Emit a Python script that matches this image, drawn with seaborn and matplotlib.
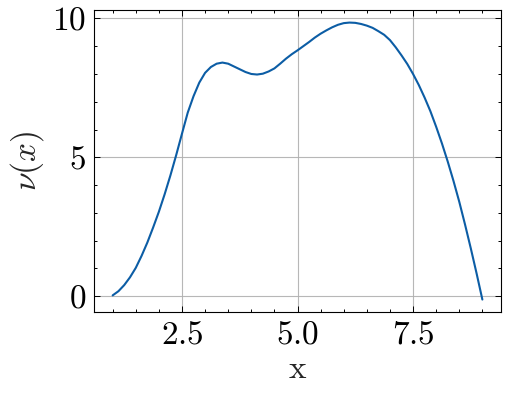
import numpy as np
import pandas as pd
import seaborn as sns
import matplotlib
matplotlib.use("Agg")
import matplotlib.pyplot as plt
from matplotlib.ticker import MultipleLocator

x_vals = [1.0, 1.125, 1.25, 1.375, 1.5, 1.625, 1.75, 1.875, 2.0, 2.125, 2.25,
          2.375, 2.5, 2.625, 2.75, 2.875, 3.0, 3.125, 3.25, 3.375, 3.5, 3.625,
          3.75, 3.875, 4.0, 4.125, 4.25, 4.375, 4.5, 4.625, 4.75, 4.875, 5.0,
          5.125, 5.25, 5.375, 5.5, 5.625, 5.75, 5.875, 6.0, 6.125, 6.25, 6.375,
          6.5, 6.625, 6.75, 6.875, 7.0, 7.125, 7.25, 7.375, 7.5, 7.625, 7.75,
          7.875, 8.0, 8.125, 8.25, 8.375, 8.5, 8.625, 8.75, 8.875, 9.0]
nu_vals = [0.03, 0.18, 0.4, 0.68, 1.02, 1.45, 1.93, 2.47, 3.04, 3.67, 4.35,
           5.08, 5.85, 6.61, 7.2, 7.69, 8.04, 8.25, 8.37, 8.41, 8.37, 8.27,
           8.17, 8.07, 8.0, 7.98, 8.01, 8.09, 8.2, 8.37, 8.55, 8.71, 8.85,
           9.0, 9.15, 9.31, 9.45, 9.57, 9.68, 9.77, 9.83, 9.85, 9.84, 9.8,
           9.74, 9.66, 9.54, 9.41, 9.22, 8.96, 8.67, 8.36, 8.0, 7.6, 7.15,
           6.66, 6.1, 5.5, 4.85, 4.15, 3.4, 2.58, 1.72, 0.82, -0.12]
x_label = "x"
y_label = r"$\nu(x)$"

df = pd.DataFrame({"x": x_vals, "nu": nu_vals})

sns.set_theme(style="ticks")
plt.rcParams.update({
    "font.family": "serif",
    "font.serif": ["cmr10", "DejaVu Serif"],
    "mathtext.fontset": "cm",
    "axes.formatter.use_mathtext": True,
    "axes.unicode_minus": False,
})

fig = plt.figure(figsize=(5.09, 4.03), dpi=100)
ax = fig.add_axes([0.185, 0.225, 0.799, 0.75])

sns.lineplot(data=df, x="x", y="nu", ax=ax, color="#0C5DA5", linewidth=1.5)

ax.set_xlabel(x_label, fontsize=24)
ax.set_ylabel(y_label, fontsize=24)
ax.xaxis.set_major_locator(MultipleLocator(2.5))
ax.xaxis.set_minor_locator(MultipleLocator(0.5))
ax.yaxis.set_major_locator(MultipleLocator(5))
ax.yaxis.set_minor_locator(MultipleLocator(1))
ax.set_xlim(0.6, 9.4)
ax.set_ylim(-0.58, 10.3)

ax.tick_params(which="both", direction="in", top=True, right=True, labelsize=24,
               width=0.7, colors="black")
ax.tick_params(which="major", length=4.5, pad=6)
ax.tick_params(which="minor", length=2.3)
for s in ax.spines.values():
    s.set_linewidth(0.8)
    s.set_color("black")
ax.grid(True, which="major", color="#b0b0b0", linewidth=0.8, alpha=0.9)
ax.set_axisbelow(True)

fig.savefig("out.png", dpi=100)
